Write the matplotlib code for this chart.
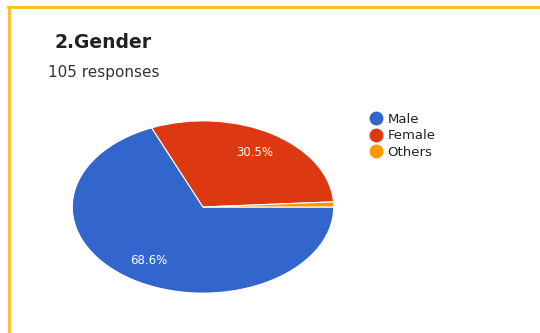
import matplotlib.pyplot as plt
from matplotlib.lines import Line2D

plt.rcParams['font.family'] = ['DejaVu Sans']

# responses per option (105 total)
categories = ['Male', 'Female', 'Others']
counts = [72, 32, 1]
colors = ['#3366CC', '#DC3912', '#FF9900']

W, H = 540, 333
fig = plt.figure(figsize=(W / 100, H / 100), dpi=100)
fig.patch.set_facecolor('white')

# pie is stretched horizontally in the reference
cx, cy, rx, ry = 203, 207, 132, 87
ax = fig.add_axes([(cx - rx) / W, (H - cy - ry) / H, 2 * rx / W, 2 * ry / H])


def pct(p):
    return f'{p:.1f}%' if p > 5 else ''


wedges, texts, autotexts = ax.pie(
    counts, colors=colors, startangle=0, counterclock=False,
    autopct=pct, pctdistance=0.75,
    wedgeprops=dict(edgecolor='white', linewidth=0.8),
    textprops=dict(color='white', fontsize=8.5))
ax.set_xlim(-1.01, 1.01)
ax.set_ylim(-1.01, 1.01)
ax.set_aspect('auto')
ax.axis('off')

# title and subtitle
fig.text(54 / W, 1 - 43 / H, '2.Gender', fontsize=13.5, fontweight='bold',
         color='#202124', va='center', ha='left')
fig.text(48 / W, 1 - 72 / H, f'{sum(counts)} responses', fontsize=11,
         color='#333333', va='center', ha='left')

# legend
handles = [Line2D([], [], marker='o', linestyle='', markersize=9,
                  markerfacecolor=c, markeredgecolor=c) for c in colors]
fig.legend(handles, categories, loc='upper left',
           bbox_to_anchor=(361 / W, 1 - 106 / H), frameon=False,
           fontsize=9.5, handletextpad=0.3, labelspacing=0.28,
           handlelength=1.2, borderpad=0, labelcolor='#222222')

# yellow frame of the screenshot (top and left edge)
frame = '#F9BE1A'
fig.add_artist(Line2D([8 / W, 1], [1 - 7 / H, 1 - 7 / H], color=frame,
                      linewidth=2, transform=fig.transFigure))
fig.add_artist(Line2D([9 / W, 9 / W], [0, 1 - 7 / H], color=frame,
                      linewidth=2, transform=fig.transFigure))

fig.savefig('out.png', dpi=100)
